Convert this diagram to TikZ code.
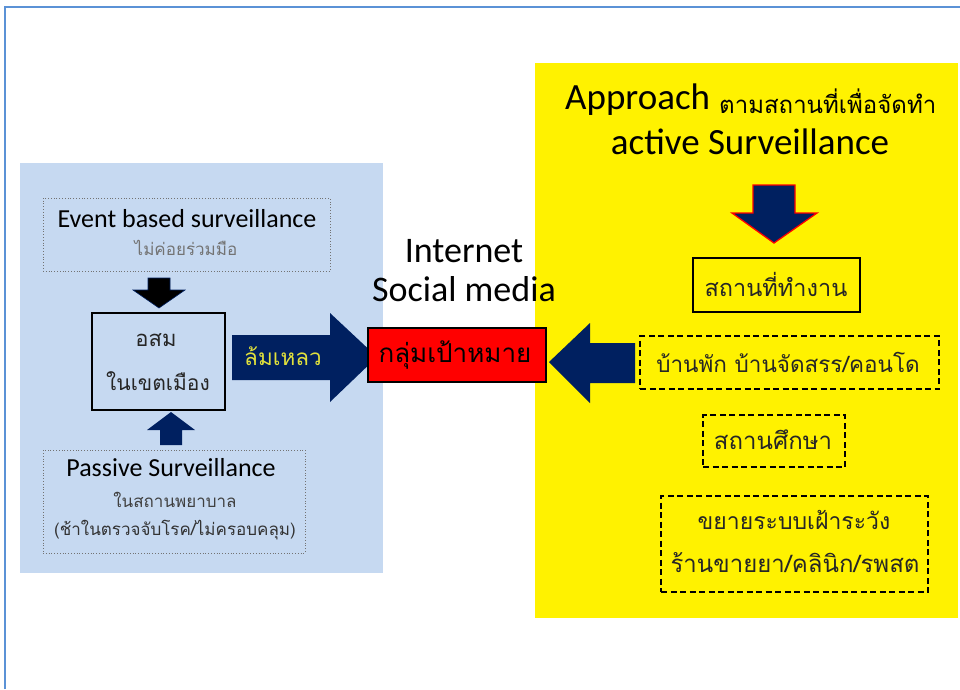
\documentclass[tikz,border=0pt]{standalone}
\usepackage{fontspec}
\setmainfont{Carlito}
\newfontfamily\thai[Script=Thai]{Loma}
\usetikzlibrary{arrows.meta}
\definecolor{navy}{RGB}{0,32,96}
\definecolor{paleblue}{RGB}{198,217,241}
\definecolor{framecol}{RGB}{91,146,214}
\definecolor{failtxt}{RGB}{225,225,60}

\begin{document}
\begin{tikzpicture}[x=1pt,y=-1pt,
  dotbox/.style={draw=black!55,dotted,line width=0.8pt,inner sep=0pt},
  dashbox/.style={draw=black,dash pattern=on 6pt off 3.5pt,line width=2pt,inner sep=0pt},
  solidbox/.style={draw=black,line width=2.2pt,inner sep=0pt},
  lat/.style={font=\fontsize{#1}{#1}\selectfont,inner sep=0pt},
  th/.style={font=\thai\fontsize{#1}{#1}\selectfont,inner sep=0pt}]
  \useasboundingbox (0,0) rectangle (960,689);
  % frame and panels
  \draw[framecol,line width=1.5pt] (5,689) -- (5,7) -- (960,7);
  \fill[paleblue] (20,163) rectangle (383,573);
  \fill[yellow] (535,63) rectangle (958,618);

  % left side: urban volunteers
  \node[dotbox,minimum width=287pt,minimum height=73pt] (event) at (186.5,234.5) {};
  \node[lat=26] (eventt) at (187,219) {Event based surveillance};
  \node[th=17,text=black!55] (eventn) at (186,248) {ไม่ค่อยร่วมมือ};
  \node[solidbox,minimum width=133pt,minimum height=97pt] (osm) at (158.5,361.5) {};
  \node[th=22,text=black!85] (osm1) at (156,340) {อสม};
  \node[th=21,text=black!85] (osm2) at (158,381) {ในเขตเมือง};
  \node[dotbox,minimum width=262pt,minimum height=103pt] (pass) at (174,501.5) {};
  \node[lat=26] (passt) at (171,468) {Passive Surveillance};
  \node[th=17,text=black!75] (passn) at (175,500) {ในสถานพยาบาล};
  \node[th=17,text=black!80] (passm) at (175,530) {(ช้าในตรวจจับโรค/ไม่ครอบคลุม)};
  % small arrows into the box
  \filldraw[fill=black,draw=navy,line width=0.6pt] (148,278) -- (170,278) -- (170,290) -- (185,290)
    -- (159,308) -- (133,290) -- (148,290) -- cycle;
  \fill[navy] (160,445) -- (182,445) -- (182,430) -- (195,430) -- (171,412) -- (147,430) -- (160,430) -- cycle;
  % big arrow to the target group
  \fill[navy] (232,335) -- (330,335) -- (330,313) -- (377,357) -- (330,402) -- (330,380) -- (232,380) -- cycle;
  \node[th=22.5,text=failtxt] (fail) at (283,356) {ล้มเหลว};

  % centre
  \node[lat=36] (net) at (464,251) {Internet};
  \node[lat=36] (soc) at (464,289) {Social media};
  \node[draw=black,line width=1.5pt,fill=red,minimum width=178pt,minimum height=54pt,inner sep=0pt] (tgt) at (457,355) {};
  \node[th=26] (tgtt) at (455,355) {กลุ่มเป้าหมาย};

  % right side: active surveillance by place
  \node[lat=37,anchor=west] (appr) at (565,100) {Approach};
  \node[th=24,anchor=west] (apprn) at (719,101) {ตามสถานที่เพื่อจัดทำ};
  \node[lat=37] (act) at (750,142) {active Surveillance};
  \filldraw[fill=navy,draw=red,line width=1.3pt] (753,185) -- (795,185) -- (795,213) -- (817,213)
    -- (774,243) -- (732,213) -- (753,213) -- cycle;
  \node[solidbox,minimum width=167pt,minimum height=54pt] (work) at (776.5,285) {};
  \node[th=23.5,text=black!85] (workt) at (776,284) {สถานที่ทำงาน};
  \node[dashbox,minimum width=299pt,minimum height=53pt] (home) at (789.5,362.5) {};
  \node[th=22.5,text=black!85] (homet) at (788,362) {บ้านพัก บ้านจัดสรร/คอนโด};
  \node[dashbox,minimum width=142pt,minimum height=52pt] (school) at (774,441) {};
  \node[th=24,text=black!85] (schoolt) at (773,440) {สถานศึกษา};
  \node[dashbox,minimum width=267pt,minimum height=96pt] (ext) at (794.5,544) {};
  \node[th=23,text=black!85] (ext1) at (794,520) {ขยายระบบเฝ้าระวัง};
  \node[th=24,text=black!85] (ext2) at (795,563) {ร้านขายยา/คลินิก/รพสต};
  % arrow from the places to the target group
  \fill[navy] (635,343) -- (590,343) -- (590,323) -- (549,362) -- (590,403) -- (590,383) -- (635,383) -- cycle;
\end{tikzpicture}
\end{document}
